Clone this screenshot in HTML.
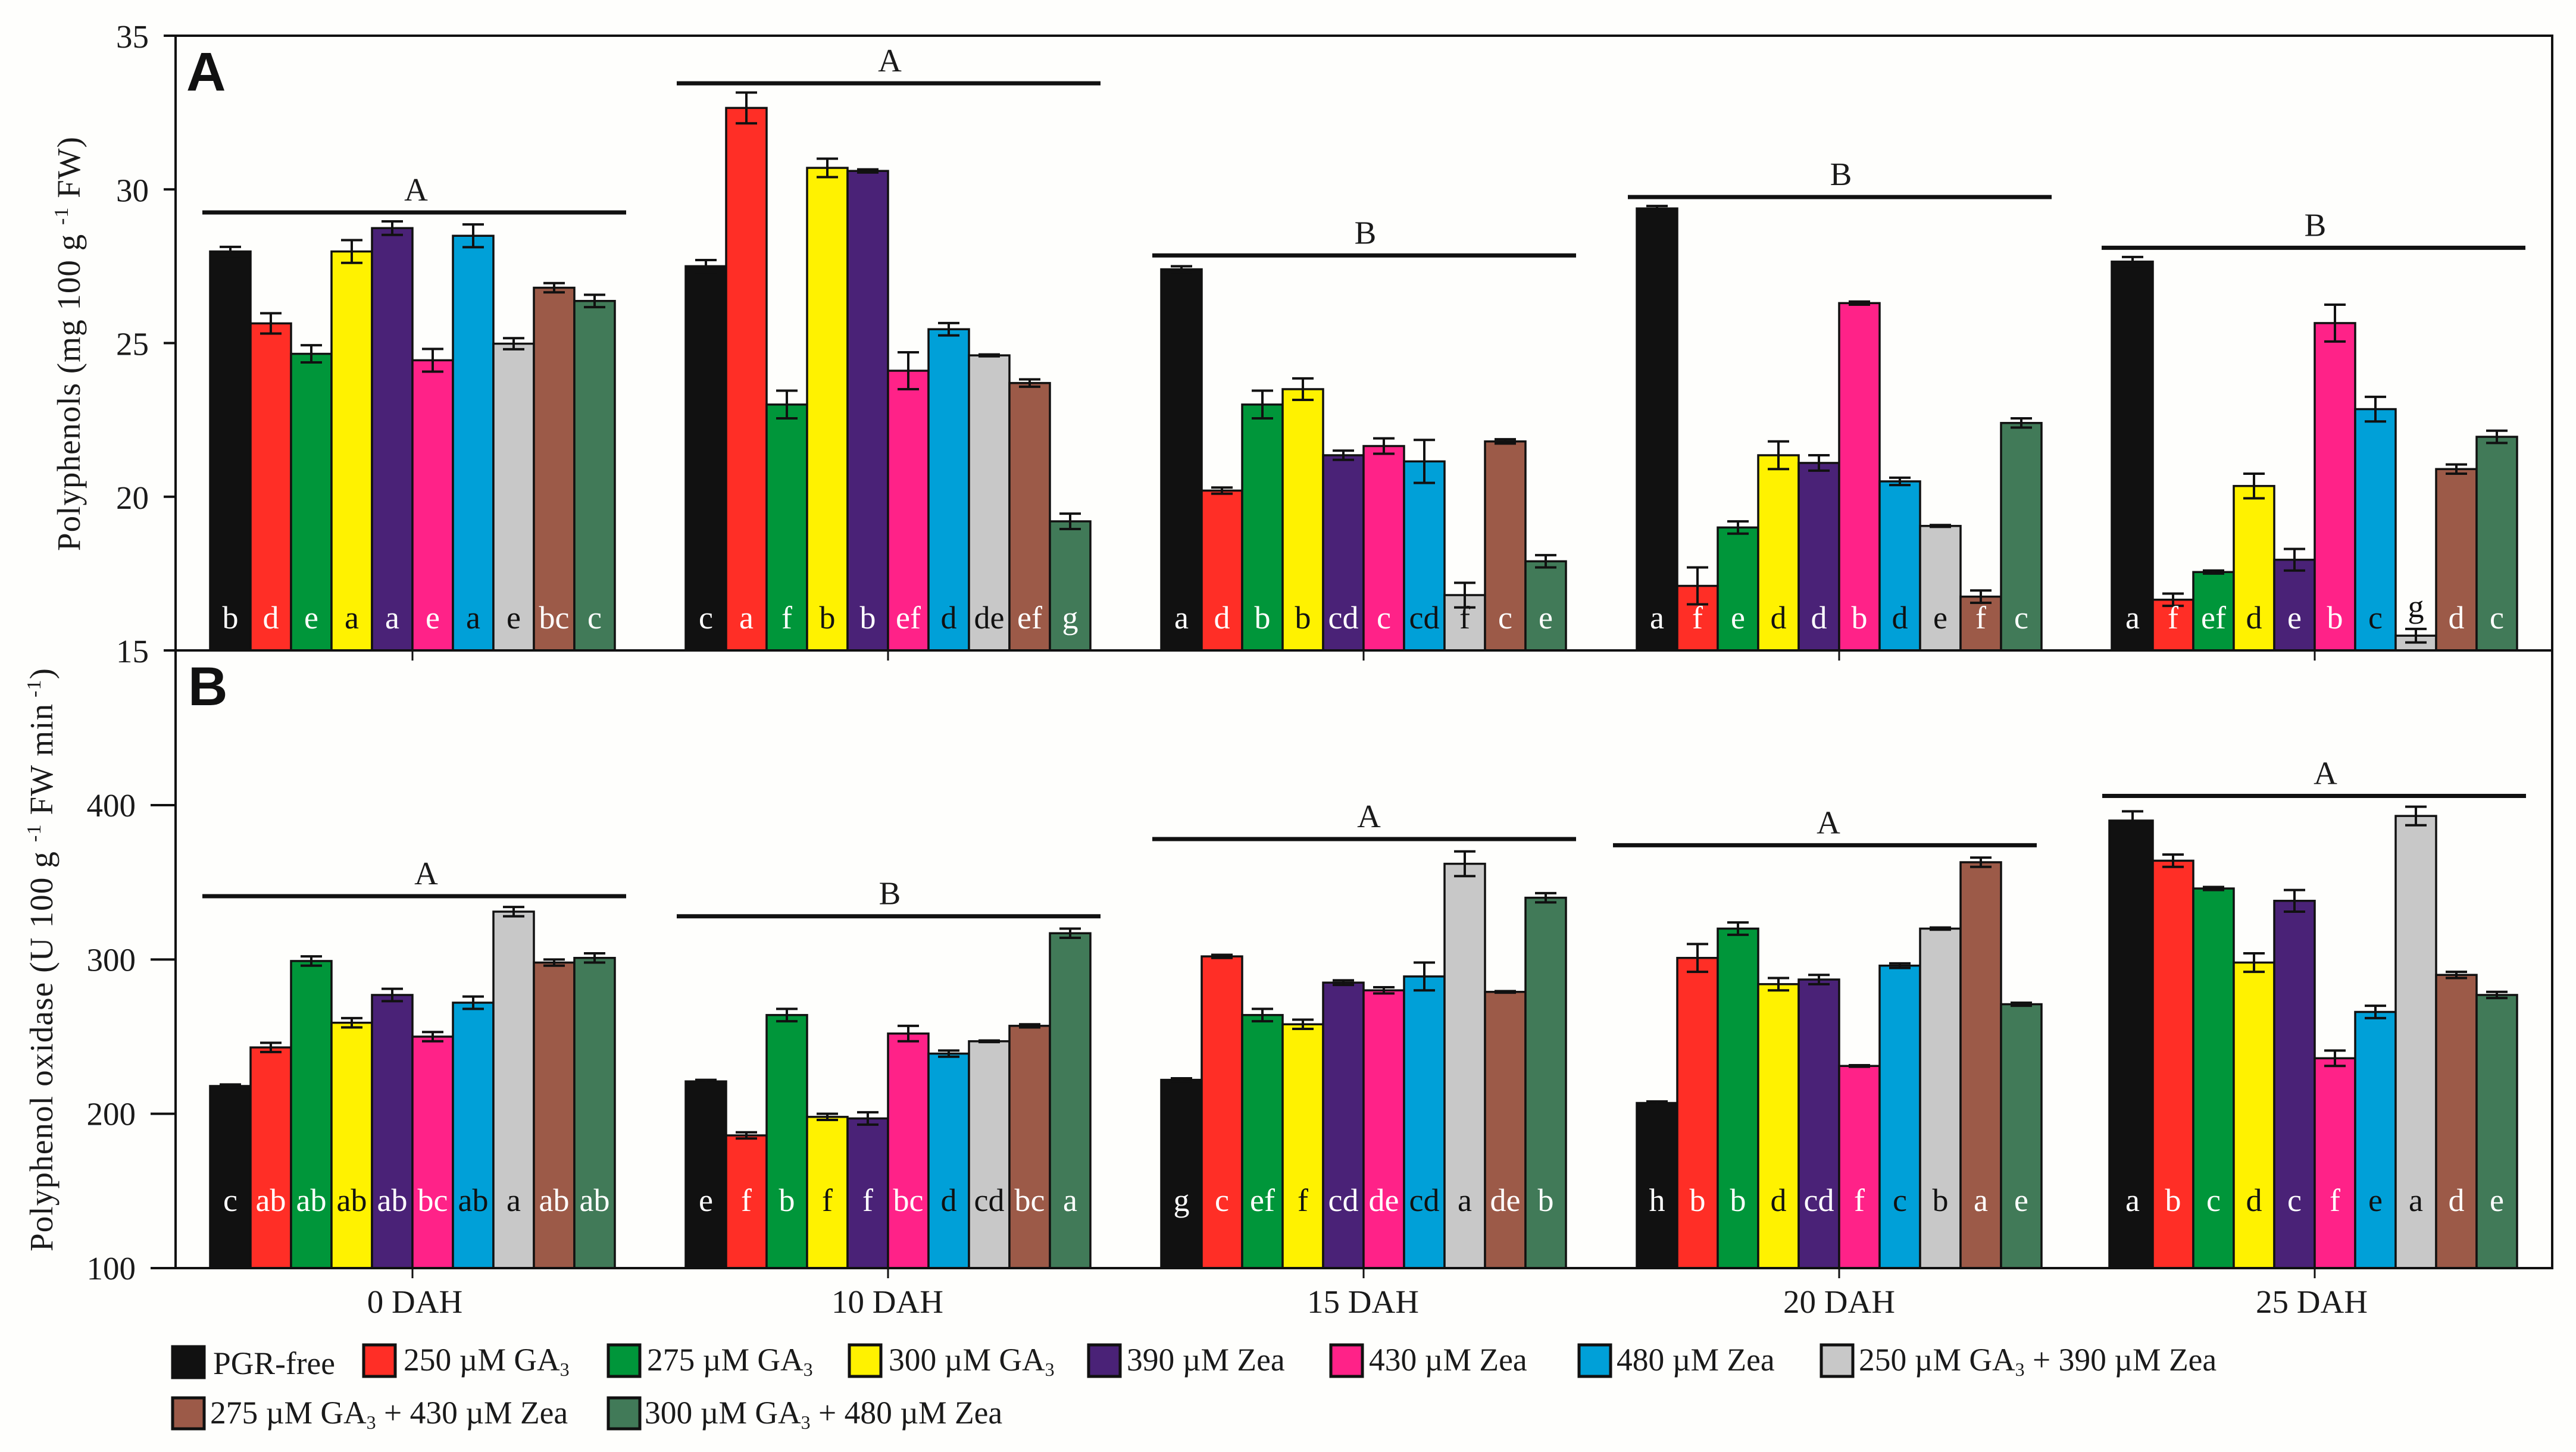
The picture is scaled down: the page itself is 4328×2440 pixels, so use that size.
<!DOCTYPE html>
<html lang="en">
<head>
<meta charset="utf-8">
<title>Polyphenols and polyphenol oxidase by treatment and DAH</title>
<style>
html,body{margin:0;padding:0;background:#fefefc;}
svg{display:block;}
text{font-family:"Liberation Serif",serif;fill:#1a1a1a;}
.big{font-family:"Liberation Sans",sans-serif;font-weight:700;font-size:92px;fill:#111;}
.t55{font-size:55px;}
.leg{font-size:53.5px;}
</style>
</head>
<body>
<svg id="chart" xmlns="http://www.w3.org/2000/svg" width="4328" height="2440" viewBox="0 0 4328 2440">
  <rect x="0" y="0" width="4328" height="2440" fill="#fefefc"/>
  <g id="marks"></g>
  <text class="big" x="313" y="152">A</text>
  <text class="big" x="316" y="1185">B</text>
  <text class="t55" transform="translate(134,926) rotate(-90)" textLength="696">Polyphenols (mg 100 g <tspan font-size="34" dy="-20">-1</tspan><tspan dy="20"> FW)</tspan></text>
  <text class="t55" transform="translate(88,2103) rotate(-90)" textLength="980">Polyphenol oxidase (U 100 g <tspan font-size="34" dy="-20">-1</tspan><tspan dy="20"> FW min</tspan><tspan font-size="34" dy="-20"> -1</tspan><tspan dy="20">)</tspan></text>

  <g stroke="#111" stroke-width="5">
    <rect x="290" y="2263" width="53" height="52" fill="#111"/>
    <rect x="611" y="2260" width="53" height="53" fill="#ff2e26"/>
    <rect x="1022" y="2260" width="53" height="53" fill="#00963a"/>
    <rect x="1427" y="2260" width="53" height="53" fill="#fff200"/>
    <rect x="1829" y="2260" width="53" height="53" fill="#4a2277"/>
    <rect x="2236" y="2260" width="53" height="53" fill="#ff2288"/>
    <rect x="2653" y="2260" width="53" height="53" fill="#00a0d8"/>
    <rect x="3060" y="2260" width="53" height="53" fill="#c8c8c8"/>
    <rect x="290" y="2349" width="53" height="52" fill="#9c5a48"/>
    <rect x="1022" y="2349" width="53" height="52" fill="#417a58"/>
  </g>
  <g>
    <text class="leg" x="358" y="2309">PGR-free</text>
    <text class="leg" x="678" y="2303">250 µM GA<tspan font-size="32" dy="9">3</tspan></text>
    <text class="leg" x="1087" y="2303">275 µM GA<tspan font-size="32" dy="9">3</tspan></text>
    <text class="leg" x="1493" y="2303">300 µM GA<tspan font-size="32" dy="9">3</tspan></text>
    <text class="leg" x="1893" y="2303">390 µM Zea</text>
    <text class="leg" x="2300" y="2303">430 µM Zea</text>
    <text class="leg" x="2716" y="2303">480 µM Zea</text>
    <text class="leg" x="3123" y="2303">250 µM GA<tspan font-size="32" dy="9">3</tspan><tspan dy="-9"> + 390 µM Zea</tspan></text>
    <text class="leg" x="353" y="2392">275 µM GA<tspan font-size="32" dy="9">3</tspan><tspan dy="-9"> + 430 µM Zea</tspan></text>
    <text class="leg" x="1083" y="2392">300 µM GA<tspan font-size="32" dy="9">3</tspan><tspan dy="-9"> + 480 µM Zea</tspan></text>
  </g>
</svg>
<script>
const days = ['0 DAH', '10 DAH', '15 DAH', '20 DAH', '25 DAH'];
const treatmentColors = ['#111111', '#ff2e26', '#00963a', '#fff200', '#4a2277', '#ff2288', '#00a0d8', '#c8c8c8', '#9c5a48', '#417a58'];
const darkLabelTreatments = [3, 6, 7];

const ticksA = [15, 20, 25, 30, 35];
const valuesA = [
  [27.98, 25.64, 24.65, 27.98, 28.74, 24.44, 28.49, 24.98, 26.8, 26.37],
  [27.5, 32.65, 23.0, 30.7, 30.6, 24.1, 25.45, 24.6, 23.7, 19.2],
  [27.4, 20.2, 23.0, 23.5, 21.35, 21.65, 21.15, 16.8, 21.8, 17.9],
  [29.38, 17.1, 19.0, 21.35, 21.1, 26.3, 20.5, 19.05, 16.75, 22.4],
  [27.65, 16.65, 17.55, 20.35, 17.95, 25.65, 22.85, 15.48, 20.9, 21.95]
];
const errorsA = [
  [0.15, 0.33, 0.28, 0.37, 0.22, 0.37, 0.37, 0.18, 0.15, 0.2],
  [0.2, 0.5, 0.45, 0.3, 0.05, 0.6, 0.2, 0.03, 0.12, 0.25],
  [0.1, 0.1, 0.45, 0.35, 0.15, 0.25, 0.7, 0.4, 0.07, 0.2],
  [0.08, 0.6, 0.2, 0.45, 0.25, 0.05, 0.12, 0.03, 0.2, 0.15],
  [0.15, 0.2, 0.05, 0.4, 0.35, 0.6, 0.4, 0.22, 0.15, 0.2]
];
const lettersA = [
  ['b', 'd', 'e', 'a', 'a', 'e', 'a', 'e', 'bc', 'c'],
  ['c', 'a', 'f', 'b', 'b', 'ef', 'd', 'de', 'ef', 'g'],
  ['a', 'd', 'b', 'b', 'cd', 'c', 'cd', 'f', 'c', 'e'],
  ['a', 'f', 'e', 'd', 'd', 'b', 'd', 'e', 'f', 'c'],
  ['a', 'f', 'ef', 'd', 'e', 'b', 'c', 'g', 'd', 'c']
];
const groupLettersA = ['A', 'A', 'B', 'B', 'B'];
const groupLevelsA = [29.25, 33.45, 27.85, 29.75, 28.1];

const ticksB = [100, 200, 300, 400];
const valuesB = [
  [218, 243, 299, 259, 277, 250, 272, 331, 298, 301],
  [221, 186, 264, 198, 197, 252, 239, 247, 257, 317],
  [222, 302, 264, 258, 285, 280, 289, 362, 279, 340],
  [207, 301, 320, 284, 287, 231, 296, 320, 363, 271],
  [390, 364, 346, 298, 338, 236, 266, 393, 290, 277]
];
const errorsB = [
  [1, 3, 3, 3, 4, 3, 4, 3, 2, 3],
  [1, 2, 4, 2, 4, 5, 2, 0.5, 1, 3],
  [1, 1, 4, 3, 1.5, 2, 9, 8, 0.5, 3],
  [1, 9, 4, 4, 3, 0.5, 1.5, 0.7, 3, 1],
  [6, 4, 1, 6, 7, 5, 4, 6, 2, 2]
];
const lettersB = [
  ['c', 'ab', 'ab', 'ab', 'ab', 'bc', 'ab', 'a', 'ab', 'ab'],
  ['e', 'f', 'b', 'f', 'f', 'bc', 'd', 'cd', 'bc', 'a'],
  ['g', 'c', 'ef', 'f', 'cd', 'de', 'cd', 'a', 'de', 'b'],
  ['h', 'b', 'b', 'd', 'cd', 'f', 'c', 'b', 'a', 'e'],
  ['a', 'b', 'c', 'd', 'c', 'f', 'e', 'a', 'd', 'e']
];
const groupLettersB = ['A', 'B', 'A', 'A', 'A'];
const groupLevelsB = [341, 328, 378, 374, 406];

const NS = 'http://www.w3.org/2000/svg';
const root = document.getElementById('marks');
const LEFT = 295, RIGHT = 4288, TOP = 60, MID = 1093, BOTTOM = 2131;
const yA = v => MID - (v - 15) * (MID - TOP) / 20;
const yB = v => BOTTOM - (v - 100) * (BOTTOM - 1353) / 300;
const tickX = g => 693 + g * 799;
const BAR_W = 68;

function mk(tag, attrs, text) {
  const el = document.createElementNS(NS, tag);
  for (const k in attrs) el.setAttribute(k, attrs[k]);
  if (text !== undefined) el.textContent = text;
  root.appendChild(el);
  return el;
}

function drawPanel(values, errors, letters, groupLetters, groupLevels, y, axisBottom, baseline, lineShift, labelShift, lastBlackExtra) {
  values.forEach((row, g) => {
    row.forEach((v, i) => {
      const extra = (i === 0 && g === values.length - 1) ? lastBlackExtra : 0;
      const x0 = tickX(g) + (i - 5) * BAR_W - extra;
      const top = y(v);
      const bar = mk('rect', { x: x0, y: top, width: BAR_W + extra, height: axisBottom - top, fill: treatmentColors[i], stroke: '#111', 'stroke-width': 3.5 });
      
      
    });
  });
  values.forEach((row, g) => {
    row.forEach((v, i) => {
      const cx = tickX(g) + (i - 4.5) * BAR_W;
      const e = errors[g][i];
      const hi = y(v + e), lo = y(v - e);
      const err = mk('path', { d: 'M' + (cx - 18) + ' ' + hi + 'H' + (cx + 18) + 'M' + cx + ' ' + hi + 'V' + lo + 'M' + (cx - 18) + ' ' + lo + 'H' + (cx + 18), fill: 'none', stroke: '#111', 'stroke-width': 4 });
      
      
      const top = y(v);
      const raised = top > baseline - 20;
      const ty = raised ? hi - 20 : baseline;
      const dark = darkLabelTreatments.indexOf(i) >= 0 || raised;
      const t = mk('text', { x: cx, y: ty, 'text-anchor': 'middle', 'font-size': 54, style: 'fill:' + (dark ? '#111' : '#fff') }, letters[g][i]);
      
      
    });
    const ly = y(groupLevels[g]);
    const line = mk('line', { x1: tickX(g) - 358 + lineShift[g], x2: tickX(g) + 354 + lineShift[g], y1: ly, y2: ly, stroke: '#111', 'stroke-width': 7 });
    
    
    const lab = mk('text', { x: tickX(g) + labelShift[g], y: ly - 20, 'text-anchor': 'middle', 'font-size': 55 }, groupLetters[g]);
    
    
  });
}

drawPanel(valuesA, errorsA, lettersA, groupLettersA, groupLevelsA, yA, MID, 1056, [5, 3, 3, 3, 0], [6, 3, 3, 3, 1], 1);
drawPanel(valuesB, errorsB, lettersB, groupLettersB, groupLevelsB, yB, BOTTOM, 2035, [5, 3, 3, -22, 1], [23, 3, 9, -18, 18], 5);

const frame = mk('path', { d: 'M' + LEFT + ' ' + BOTTOM + 'V' + TOP + 'H' + RIGHT + 'V' + BOTTOM + 'Z M' + LEFT + ' ' + MID + 'H' + RIGHT, fill: 'none', stroke: '#111', 'stroke-width': 4 });



ticksA.forEach(v => {
  const tk = mk('line', { x1: LEFT - 20, x2: LEFT, y1: yA(v), y2: yA(v), stroke: '#111', 'stroke-width': 4 });
  
  
  const t = mk('text', { x: 250, y: yA(v) + 20, 'text-anchor': 'end', 'font-size': 55 }, String(v));
  
  
});
ticksB.forEach(v => {
  const tk = mk('line', { x1: LEFT - 42, x2: LEFT, y1: yB(v), y2: yB(v), stroke: '#111', 'stroke-width': 4 });
  
  
  const t = mk('text', { x: 228, y: yB(v) + 19, 'text-anchor': 'end', 'font-size': 55 }, String(v));
  
  
});
const dayLabelShift = [4, -1, -1, 0, -5];
days.forEach((d, g) => {
  const ta = mk('line', { x1: tickX(g), x2: tickX(g), y1: MID, y2: MID + 17, stroke: '#111', 'stroke-width': 3 });
  
  
  const tb = mk('line', { x1: tickX(g), x2: tickX(g), y1: BOTTOM, y2: BOTTOM + 17, stroke: '#111', 'stroke-width': 3 });
  
  
  const t = mk('text', { x: tickX(g) + dayLabelShift[g], y: 2206, 'text-anchor': 'middle', 'font-size': 55 }, d);
  
  
});
</script>
</body>
</html>
